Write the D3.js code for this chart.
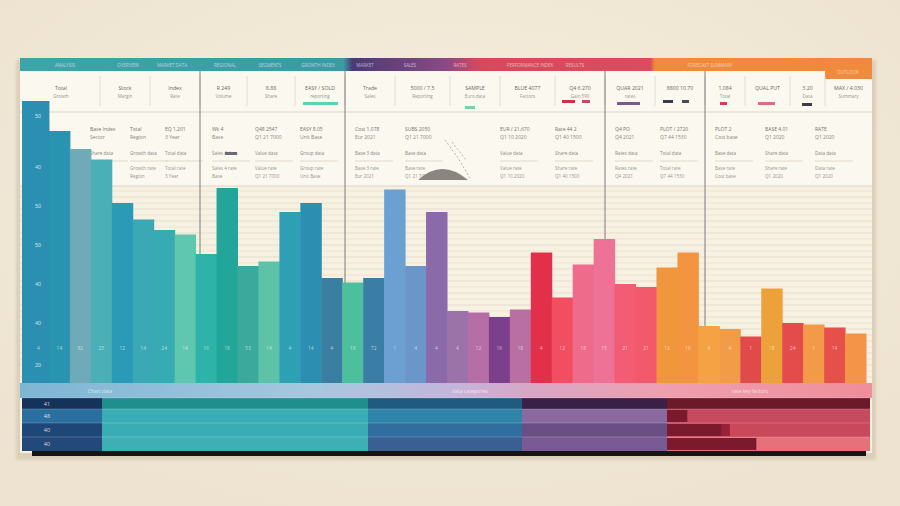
<!DOCTYPE html>
<html>
<head>
<meta charset="utf-8">
<script src="https://cdn.jsdelivr.net/npm/d3@7"></script>
<style>
  html, body { margin: 0; padding: 0; background: #f2e9d8; }
  svg { display: block; font-family: "Open Sans", Roboto, sans-serif; }
</style>
</head>
<body>
<div id="chart"></div>
<script>
// chart values (0-100 scale)
const barValues = [94, 84, 78, 74.5, 60, 54.5, 51, 49.5, 43, 65, 39, 40.5, 57, 60, 35, 33.5, 35, 64.5, 39, 57,
  24, 23.5, 22, 24.5, 43.5, 28.5, 39.5, 48, 33, 32, 38.5, 43.5, 19, 18, 15.5, 31.5, 20, 19.5, 18.5, 16.5];
const barColors = ["#2a8fb1","#2994b0","#6eaab8","#4aafb7","#2b9ab6","#3ba8b6","#36abb1","#5fc6b0","#2db3a8","#22a69a",
  "#3ba99b","#5dc3a8","#2f9fb6","#2c8eb1","#3a7fa1","#4dbf9c","#3a7ea6","#6c9fd2","#6a96c9","#8a6aa8",
  "#9c73a9","#b66fa6","#7b3f8b","#b96fa1","#e2304b","#f14e61","#ee6b8b","#ee7196","#f25d73","#f25a6b",
  "#f0963c","#f39440","#f4a244","#f29c48","#e04a4a","#eda13a","#e44b4b","#f29a48","#e5504a","#f49448"];
const barLabels = ["4","14","82","25","12","14","24","14","16","18","53","14","4","14","4","18","72","1","4","4",
  "4","12","16","18","4","12","18","15","21","21","12","16","4","4","1","18","24","1","14",""];
const yTickVals = [6, 20, 33, 46, 59, 72, 89];
const yTickLabels = ["20", "40", "40", "50", "50", "40", "50"];

// bottom table
const rowLabels = ["41", "48", "40", "40"];
const shareDark = [0, 10, 27, 44];   // % of last column in dark maroon
const shareMid = [0, 0, 4, 0];

const headerLabels = ["ANALYSIS","OVERVIEW","MARKET DATA","REGIONAL","SEGMENTS","GROWTH INDEX","MARKET","SALES","RATES",
  "PERFORMANCE INDEX","RESULTS","FORECAST SUMMARY","OUTLOOK"];
const cellTitles = ["Total","Stock","Index","R 249","8.88","EASY / SOLD","Trade","5000 / 7.5","SAMPLE","BLUE 4077",
  "Q4 6.270","QUAR 2021","8800 10.70","1.084","QUAL PUT","3.20","MAX / 4.030"];
const cellSubs = ["Growth","Margin","Rate","Volume","Share","reporting","Sales","Reporting","Euro data","Factors",
  "Gain 590","rates","","Total","","Data","Summary"];

const width = 900, height = 506;
const svg = d3.select("#chart").append("svg").attr("width", width).attr("height", height);

const defs = svg.append("defs");
const bg = defs.append("radialGradient").attr("id", "bg").attr("cx", "50%").attr("cy", "40%").attr("r", "65%");
bg.append("stop").attr("offset", "0%").attr("stop-color", "#f8efdf");
bg.append("stop").attr("offset", "100%").attr("stop-color", "#ede3d0");
const hd = defs.append("linearGradient").attr("id", "hd").attr("gradientUnits", "userSpaceOnUse")
  .attr("x1", 20).attr("x2", 872).attr("y1", 0).attr("y2", 0);
[[0, "#3ba6a9"], [0.38, "#3a9aa6"], [0.39, "#4a3a78"], [0.5, "#8a4a84"], [0.54, "#d8485c"], [0.74, "#dc4c60"],
 [0.745, "#f08a3c"], [1, "#f0883a"]].forEach(s => hd.append("stop").attr("offset", s[0]).attr("stop-color", s[1]));
const bd = defs.append("linearGradient").attr("id", "bd").attr("gradientUnits", "userSpaceOnUse")
  .attr("x1", 20).attr("x2", 872).attr("y1", 0).attr("y2", 0);
[[0, "#7db6d4"], [0.35, "#a6c8df"], [0.5, "#c2b6dc"], [0.6, "#d8a6c6"], [0.75, "#eea0b0"], [1, "#ef8e9c"]]
  .forEach(s => bd.append("stop").attr("offset", s[0]).attr("stop-color", s[1]));
defs.append("filter").attr("id", "blur").append("feGaussianBlur").attr("stdDeviation", 1.5);

svg.append("rect").attr("width", width).attr("height", height).attr("fill", "url(#bg)");

// panel
svg.append("rect").attr("x", 16).attr("y", 60).attr("width", 860).attr("height", 400)
  .attr("fill", "#dccfb9").attr("filter", "url(#blur)");
svg.append("rect").attr("x", 20).attr("y", 58).attr("width", 852).attr("height", 395).attr("fill", "#f7f1e2");
svg.append("rect").attr("x", 20).attr("y", 71).attr("width", 852).attr("height", 115).attr("fill", "#fbf8f0");

// header strip
svg.append("rect").attr("x", 20).attr("y", 58).attr("width", 852).attr("height", 13).attr("fill", "url(#hd)");
svg.append("rect").attr("x", 825).attr("y", 58).attr("width", 47).attr("height", 21).attr("fill", "#f08a3c");
const headerX = [65, 128, 172, 225, 270, 318, 365, 410, 460, 530, 575, 710, 848];
svg.selectAll(".hdl").data(headerLabels).join("text")
  .attr("class", "hdl")
  .attr("x", (d, i) => headerX[i]).attr("y", (d, i) => i == 12 ? 74 : 66.5)
  .attr("text-anchor", "middle").attr("font-size", 4.5).attr("fill", "#fff").attr("fill-opacity", 0.6)
  .text(d => d);

// info row A
const cellEdges = [22, 100, 150, 200, 247, 295, 345, 395, 450, 500, 555, 605, 655, 705, 745, 790, 825, 872];
svg.selectAll(".cdiv").data(cellEdges.slice(1, -1)).join("line")
  .attr("class", "cdiv")
  .attr("x1", d => d).attr("x2", d => d).attr("y1", 76).attr("y2", 106)
  .attr("stroke", "#ddd6c8").attr("stroke-width", 0.8);
svg.selectAll(".ctit").data(cellTitles).join("text")
  .attr("class", "ctit")
  .attr("x", (d, i) => (cellEdges[i] + cellEdges[i + 1]) / 2).attr("y", 90)
  .attr("text-anchor", "middle").attr("font-size", 5.2).attr("fill", "#6a6660").text(d => d);
svg.selectAll(".csub").data(cellSubs).join("text")
  .attr("class", "csub")
  .attr("x", (d, i) => (cellEdges[i] + cellEdges[i + 1]) / 2).attr("y", 97.5)
  .attr("text-anchor", "middle").attr("font-size", 4.5).attr("fill", "#9a958c").text(d => d);
const markers = [[303, 102, 35, "#5fcfb8"], [465, 106, 10, "#7ad0a8"], [562, 100, 13, "#d0304c"], [582, 100, 8, "#c04a6a"],
  [617, 102, 23, "#7a5a8a"], [663, 100, 10, "#3a3a4a"], [682, 100, 7, "#4a4a5a"], [720, 102, 7, "#d83a52"],
  [758, 102, 17, "#e06a80"], [802, 103, 10, "#3a3a48"]];
svg.selectAll(".mk").data(markers).join("rect")
  .attr("class", "mk")
  .attr("x", d => d[0]).attr("y", d => d[1]).attr("width", d => d[2]).attr("height", 3).attr("fill", d => d[3]);
[112, 186].forEach(yy => svg.append("line").attr("x1", 20).attr("x2", 872).attr("y1", yy).attr("y2", yy)
  .attr("stroke", "#ddd5c4").attr("stroke-width", 1.2));

// info row B text blocks
const blocks = [
  [90, ["Base Index", "Sector", "Share"]], [130, ["Total", "Region", "Growth"]], [165, ["EQ 1,201", "3 Year", "Total"]],
  [212, ["Wk 4", "Base", "Sales 4"]], [255, ["Q48 2547", "Q1 21 7000", "Value"]], [300, ["EASY 8.05", "Unit Base", "Group"]],
  [355, ["Cost 1,078", "Eur 2021", "Base 3"]], [405, ["SUBS 2050", "Q1 21 7000", "Base"]], [500, ["EUR / 21,670", "Q1 10 2020", "Value"]],
  [555, ["Rate 44 2", "Q1 40 1500", "Share"]], [615, ["Q4 PO", "Q4 2021", "Rates"]], [660, ["PLOT / 2720", "Q7 44 1530", "Total"]],
  [715, ["PLOT 2", "Cost base", "Base"]], [765, ["BASE 4.01", "Q1 2020", "Share"]], [815, ["RATE", "Q1 2020", "Data"]]];
blocks.forEach(b => {
  const g = svg.append("g").attr("transform", "translate(" + b[0] + ",0)");
  g.append("text").attr("y", 131).attr("font-size", 5).attr("fill", "#77726b").text(b[1][0]);
  g.append("text").attr("y", 139).attr("font-size", 5).attr("fill", "#8a857e").text(b[1][1]);
  g.append("text").attr("y", 155).attr("font-size", 4.6).attr("fill", "#8a857e").text(b[1][2] + " data");
  g.append("text").attr("y", 170).attr("font-size", 4.6).attr("fill", "#9a958e").text(b[1][2] + " rate");
  g.append("text").attr("y", 178).attr("font-size", 4.6).attr("fill", "#9a958e").text(b[1][1]);
  g.append("line").attr("x1", 0).attr("x2", 38).attr("y1", 161).attr("y2", 161).attr("stroke", "#e0d9cb");
});
svg.append("rect").attr("x", 225).attr("y", 152).attr("width", 12).attr("height", 3).attr("fill", "#6a6a78");
svg.append("path").attr("d", "M418,180 Q442,158 468,180 Z").attr("fill", "#8a857e");
svg.append("path").attr("d", "M445,140 L458,158 L470,178 M452,142 L466,160").attr("stroke", "#9a958e")
  .attr("stroke-width", 0.7).attr("fill", "none").attr("stroke-dasharray", "2,2");

// scales
const x = d3.scaleBand().domain(d3.range(barValues.length)).range([28, 866]).padding(0);
const y = d3.scaleLinear().domain([0, 100]).range([383, 83]);

// grid lines behind bars
svg.selectAll(".grid").data(y.ticks(40).filter(v => y(v) > 188 && v > 0)).join("line")
  .attr("class", "grid")
  .attr("x1", 20).attr("x2", 872).attr("y1", d => y(d)).attr("y2", d => y(d))
  .attr("stroke", (d, i) => i % 2 ? "#ebe4d6" : "#e2dacb").attr("stroke-width", 0.9);

// section dividers
[200, 345, 605, 705].forEach(xx => svg.append("line").attr("x1", xx).attr("x2", xx).attr("y1", 71).attr("y2", 383)
  .attr("stroke", "#7c7a7c").attr("stroke-width", 1));

// bars
svg.append("rect").attr("x", 22).attr("y", y(barValues[0])).attr("width", x(0) - 22)
  .attr("height", y(0) - y(barValues[0])).attr("fill", barColors[0]);
svg.selectAll(".bar").data(barValues).join("rect")
  .attr("class", "bar")
  .attr("x", (d, i) => x(i)).attr("width", x.bandwidth() + 0.5)
  .attr("y", d => y(d)).attr("height", d => y(0) - y(d))
  .attr("fill", (d, i) => barColors[i]);
svg.selectAll(".bl").data(barLabels).join("text")
  .attr("class", "bl")
  .attr("x", (d, i) => x(i) + x.bandwidth() / 2).attr("y", 350)
  .attr("text-anchor", "middle").attr("font-size", 5).attr("fill", "#fff").attr("fill-opacity", 0.6).text(d => d);

// y axis inside first bar
const yAxis = d3.axisRight(y).tickValues(yTickVals).tickFormat((d, i) => yTickLabels[i]).tickSize(0);
svg.append("g").attr("class", "axis y").attr("transform", "translate(32,0)").call(yAxis)
  .call(g => g.select(".domain").remove())
  .call(g => g.selectAll("text").attr("fill", "#fff").attr("fill-opacity", 0.75).attr("font-size", 5.5));

// band under bars
svg.append("rect").attr("x", 20).attr("y", 383).attr("width", 852).attr("height", 15).attr("fill", "url(#bd)");
[[100, "Chart data"], [470, "data categories"], [750, "rate key factors"]].forEach(t =>
  svg.append("text").attr("x", t[0]).attr("y", 392.5).attr("text-anchor", "middle").attr("font-size", 5)
    .attr("fill", "#fff").attr("fill-opacity", 0.7).text(t[1]));

// bottom table
svg.append("rect").attr("x", 32).attr("y", 449).attr("width", 834).attr("height", 7).attr("fill", "#161414");
const cols = [[22, 102], [102, 368], [368, 522], [522, 667], [667, 870]];
const rowY = [398, 409, 423, 437], rowH = [11, 14, 14, 14];
const colFills = [
  ["#14325a", "#1f8f8e", "#1f5a80", "#3a2046", "#6a1a28"],
  ["#2a6fa0", "#3aadb4", "#2f84aa", "#8a6a9e", "#c84a5e"],
  ["#1e4676", "#3aadb4", "#2f6e9e", "#6a4f85", "#c9485a"],
  ["#22497a", "#3db0b5", "#3a5f95", "#7a5a95", "#e8707a"]];
rowLabels.forEach((lab, r) => {
  cols.forEach((c, k) => svg.append("rect").attr("x", c[0]).attr("y", rowY[r]).attr("width", c[1] - c[0])
    .attr("height", rowH[r]).attr("fill", colFills[r][k]));
  svg.append("line").attr("x1", 22).attr("x2", 870).attr("y1", rowY[r]).attr("y2", rowY[r])
    .attr("stroke", "#ffffff").attr("stroke-opacity", 0.2);
  svg.append("text").attr("x", 47).attr("y", rowY[r] + rowH[r] / 2 + 2).attr("text-anchor", "middle")
    .attr("font-size", 5.5).attr("fill", "#fff").attr("fill-opacity", 0.8).text(lab);
});
const share = d3.scaleLinear().domain([0, 100]).range([0, 203]);
svg.selectAll(".dk").data(shareDark).join("rect")
  .attr("class", "dk")
  .attr("x", 667).attr("y", (d, i) => rowY[i] + 1).attr("width", d => share(d)).attr("height", (d, i) => rowH[i] - 2)
  .attr("fill", "#7a1a2c");
svg.selectAll(".md").data(shareMid).join("rect")
  .attr("class", "md")
  .attr("x", (d, i) => 667 + share(shareDark[i])).attr("y", (d, i) => rowY[i] + 1).attr("width", d => share(d))
  .attr("height", (d, i) => rowH[i] - 2).attr("fill", "#9a2238");
</script>
</body>
</html>
